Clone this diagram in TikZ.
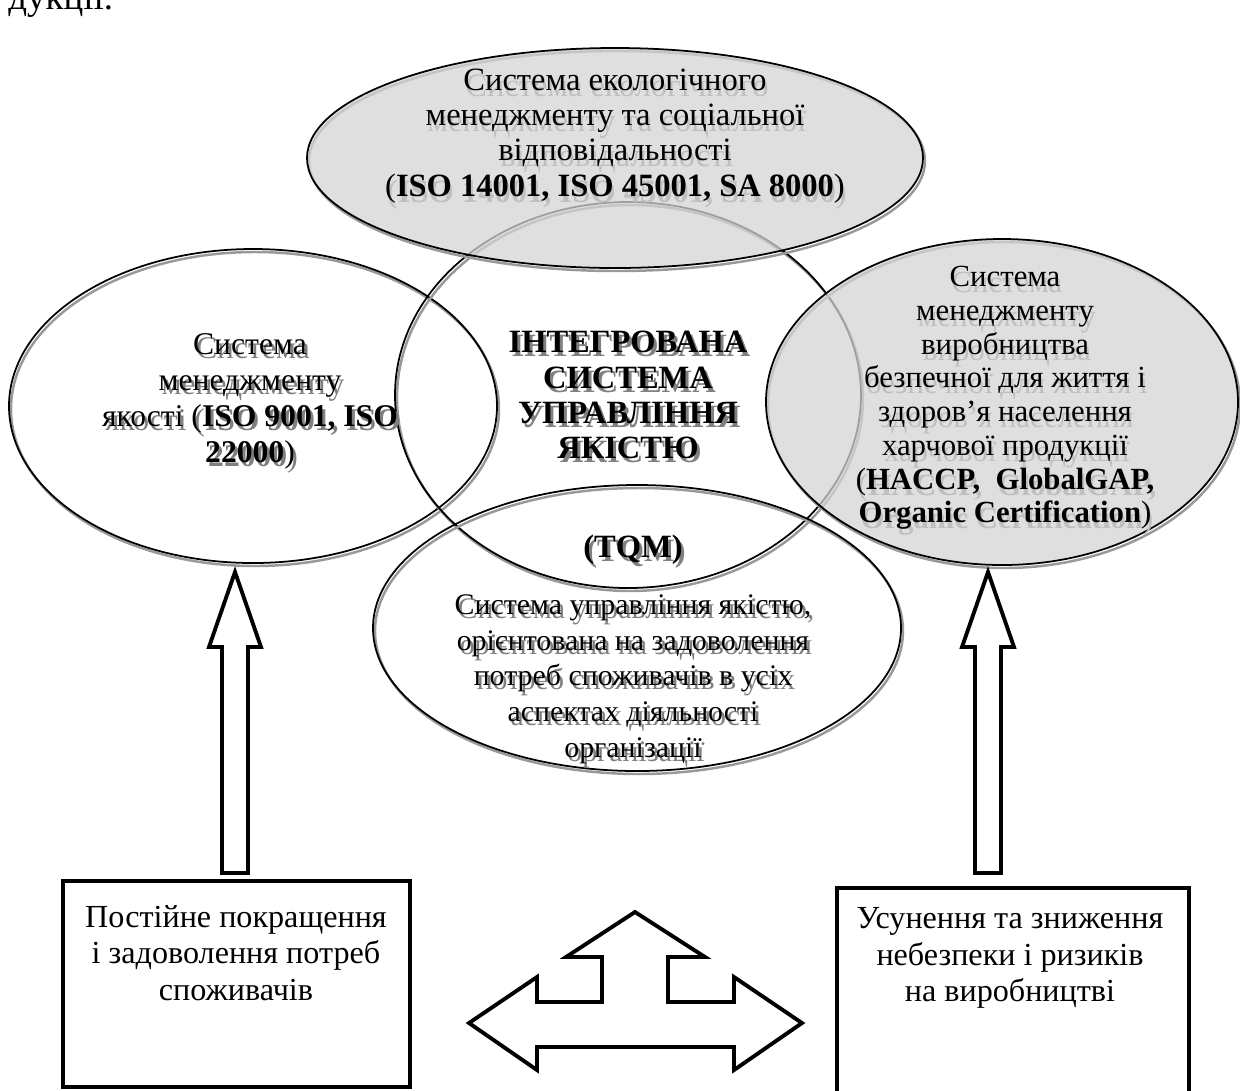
\documentclass[tikz,border=0pt]{standalone}
\usepackage{fontspec}
\setmainfont{Liberation Serif}
\usetikzlibrary{fit}

\tikzset{
  rim/.style={draw=black, line width=1pt},
  rimshade/.style={draw=black!40, line width=1.4pt, shift={(2,3)}},
  tinted/.style={fill=black!17, fill opacity=0.75},
  lbl/.style={align=center, inner sep=0pt, font=\fontsize{17.5}{19.5}\selectfont},
  deep/.style={text=black!50, shift={(3,4)}},
  soft/.style={text=black!25, shift={(2,6)}},
  boxst/.style={draw, line width=2.2pt, inner sep=0pt},
  boxtxt/.style={align=center, inner sep=0pt, font=\fontsize{18.3}{20.8}\selectfont},
  blockarr/.style={draw, line width=2.2pt, line join=miter, fill=white},
}
% text with an offset grey copy behind it
\newcommand{\shadowed}[5]{%
  \node[lbl, #2, #4] (#1-s) at #3 {#5};
  \node[lbl, #2] (#1) at #3 {#5};}

\begin{document}
\begin{tikzpicture}[x=0.02cm, y=-0.02cm]
  \useasboundingbox (0,0) rectangle (1240,1090);
  \clip (0,0) rectangle (1240,1090);
  % end of the text line above
  \node[anchor=base west, inner sep=0pt, font=\fontsize{21}{24}\selectfont] (prev) at (8,9) {дукції.};
  % open ellipses
  \foreach \cx/\cy/\rx/\ry in {253/406/244/157, 628/395/233/193, 637/628/264/143} {
    \draw[rimshade] (\cx,\cy) ellipse [x radius=\rx, y radius=\ry];
    \draw[rim] (\cx,\cy) ellipse [x radius=\rx, y radius=\ry];
  }
  % tinted ellipses
  \foreach \cx/\cy/\rx/\ry in {615/158/308/110, 1002/402/236/163} {
    \draw[rimshade] (\cx,\cy) ellipse [x radius=\rx, y radius=\ry];
    \draw[rim, tinted] (\cx,\cy) ellipse [x radius=\rx, y radius=\ry];
  }
  % labels
  \shadowed{env}{font=\fontsize{18.5}{20}\selectfont}{(615,136)}{soft}{Система екологічного\\менеджменту та соціальної\\відповідальності\\(\textbf{ISO 14001, ISO 45001, SA 8000})}
  \shadowed{qms}{font=\fontsize{18}{20.5}\selectfont}{(250,401)}{deep}{Система\\менеджменту\\якості (\textbf{ISO 9001, ISO}\\\textbf{22000})}
  \shadowed{iqms}{font=\bfseries\fontsize{18.5}{20}\selectfont}{(628,395)}{deep}{ІНТЕГРОВАНА\\СИСТЕМА\\УПРАВЛІННЯ\\ЯКІСТЮ}
  \shadowed{tqm}{font=\bfseries\fontsize{18.5}{20}\selectfont}{(633,550)}{deep}{(TQM)}
  \shadowed{tqmtxt}{font=\fontsize{17}{20.3}\selectfont}{(633,679)}{deep}{Система управління якістю,\\орієнтована на задоволення\\потреб споживачів в усіх\\аспектах діяльності\\організації}
  \shadowed{food}{font=\fontsize{17.5}{19.2}\selectfont}{(1005,398)}{soft}{Система\\менеджменту\\виробництва\\безпечної для життя і\\здоров’я населення\\харчової продукції\\(\textbf{HACCP,\ \ GlobalGAP,}\\\textbf{Organic Certification})}
  % boxes
  \node[boxst, fit={(63,881) (410,1087)}] (lbox) {};
  \node[boxst, fit={(837,888) (1189,1100)}] (rbox) {};
  \node[boxtxt] (ltxt) at (236,953) {Постійне покращення\\і задоволення потреб\\споживачів};
  \node[boxtxt] (rtxt) at (1010,958) {Усунення та зниження\\небезпеки і ризиків\\на виробництві};
  % block arrows up
  \foreach \ax in {235, 988} {
    \draw[blockarr] (\ax,572) -- (\ax+26,647) -- (\ax+13,647) -- (\ax+13,873)
      -- (\ax-13,873) -- (\ax-13,647) -- (\ax-26,647) -- cycle;
  }
  % three-way arrow
  \draw[blockarr] (469,1023) -- (537,977) -- (537,1002) -- (602,1002) -- (602,957)
    -- (566,957) -- (635,912) -- (705,957) -- (668,957) -- (668,1002) -- (734,1002)
    -- (734,977) -- (802,1023) -- (734,1070) -- (734,1047) -- (537,1047)
    -- (537,1070) -- cycle;
\end{tikzpicture}
\end{document}
